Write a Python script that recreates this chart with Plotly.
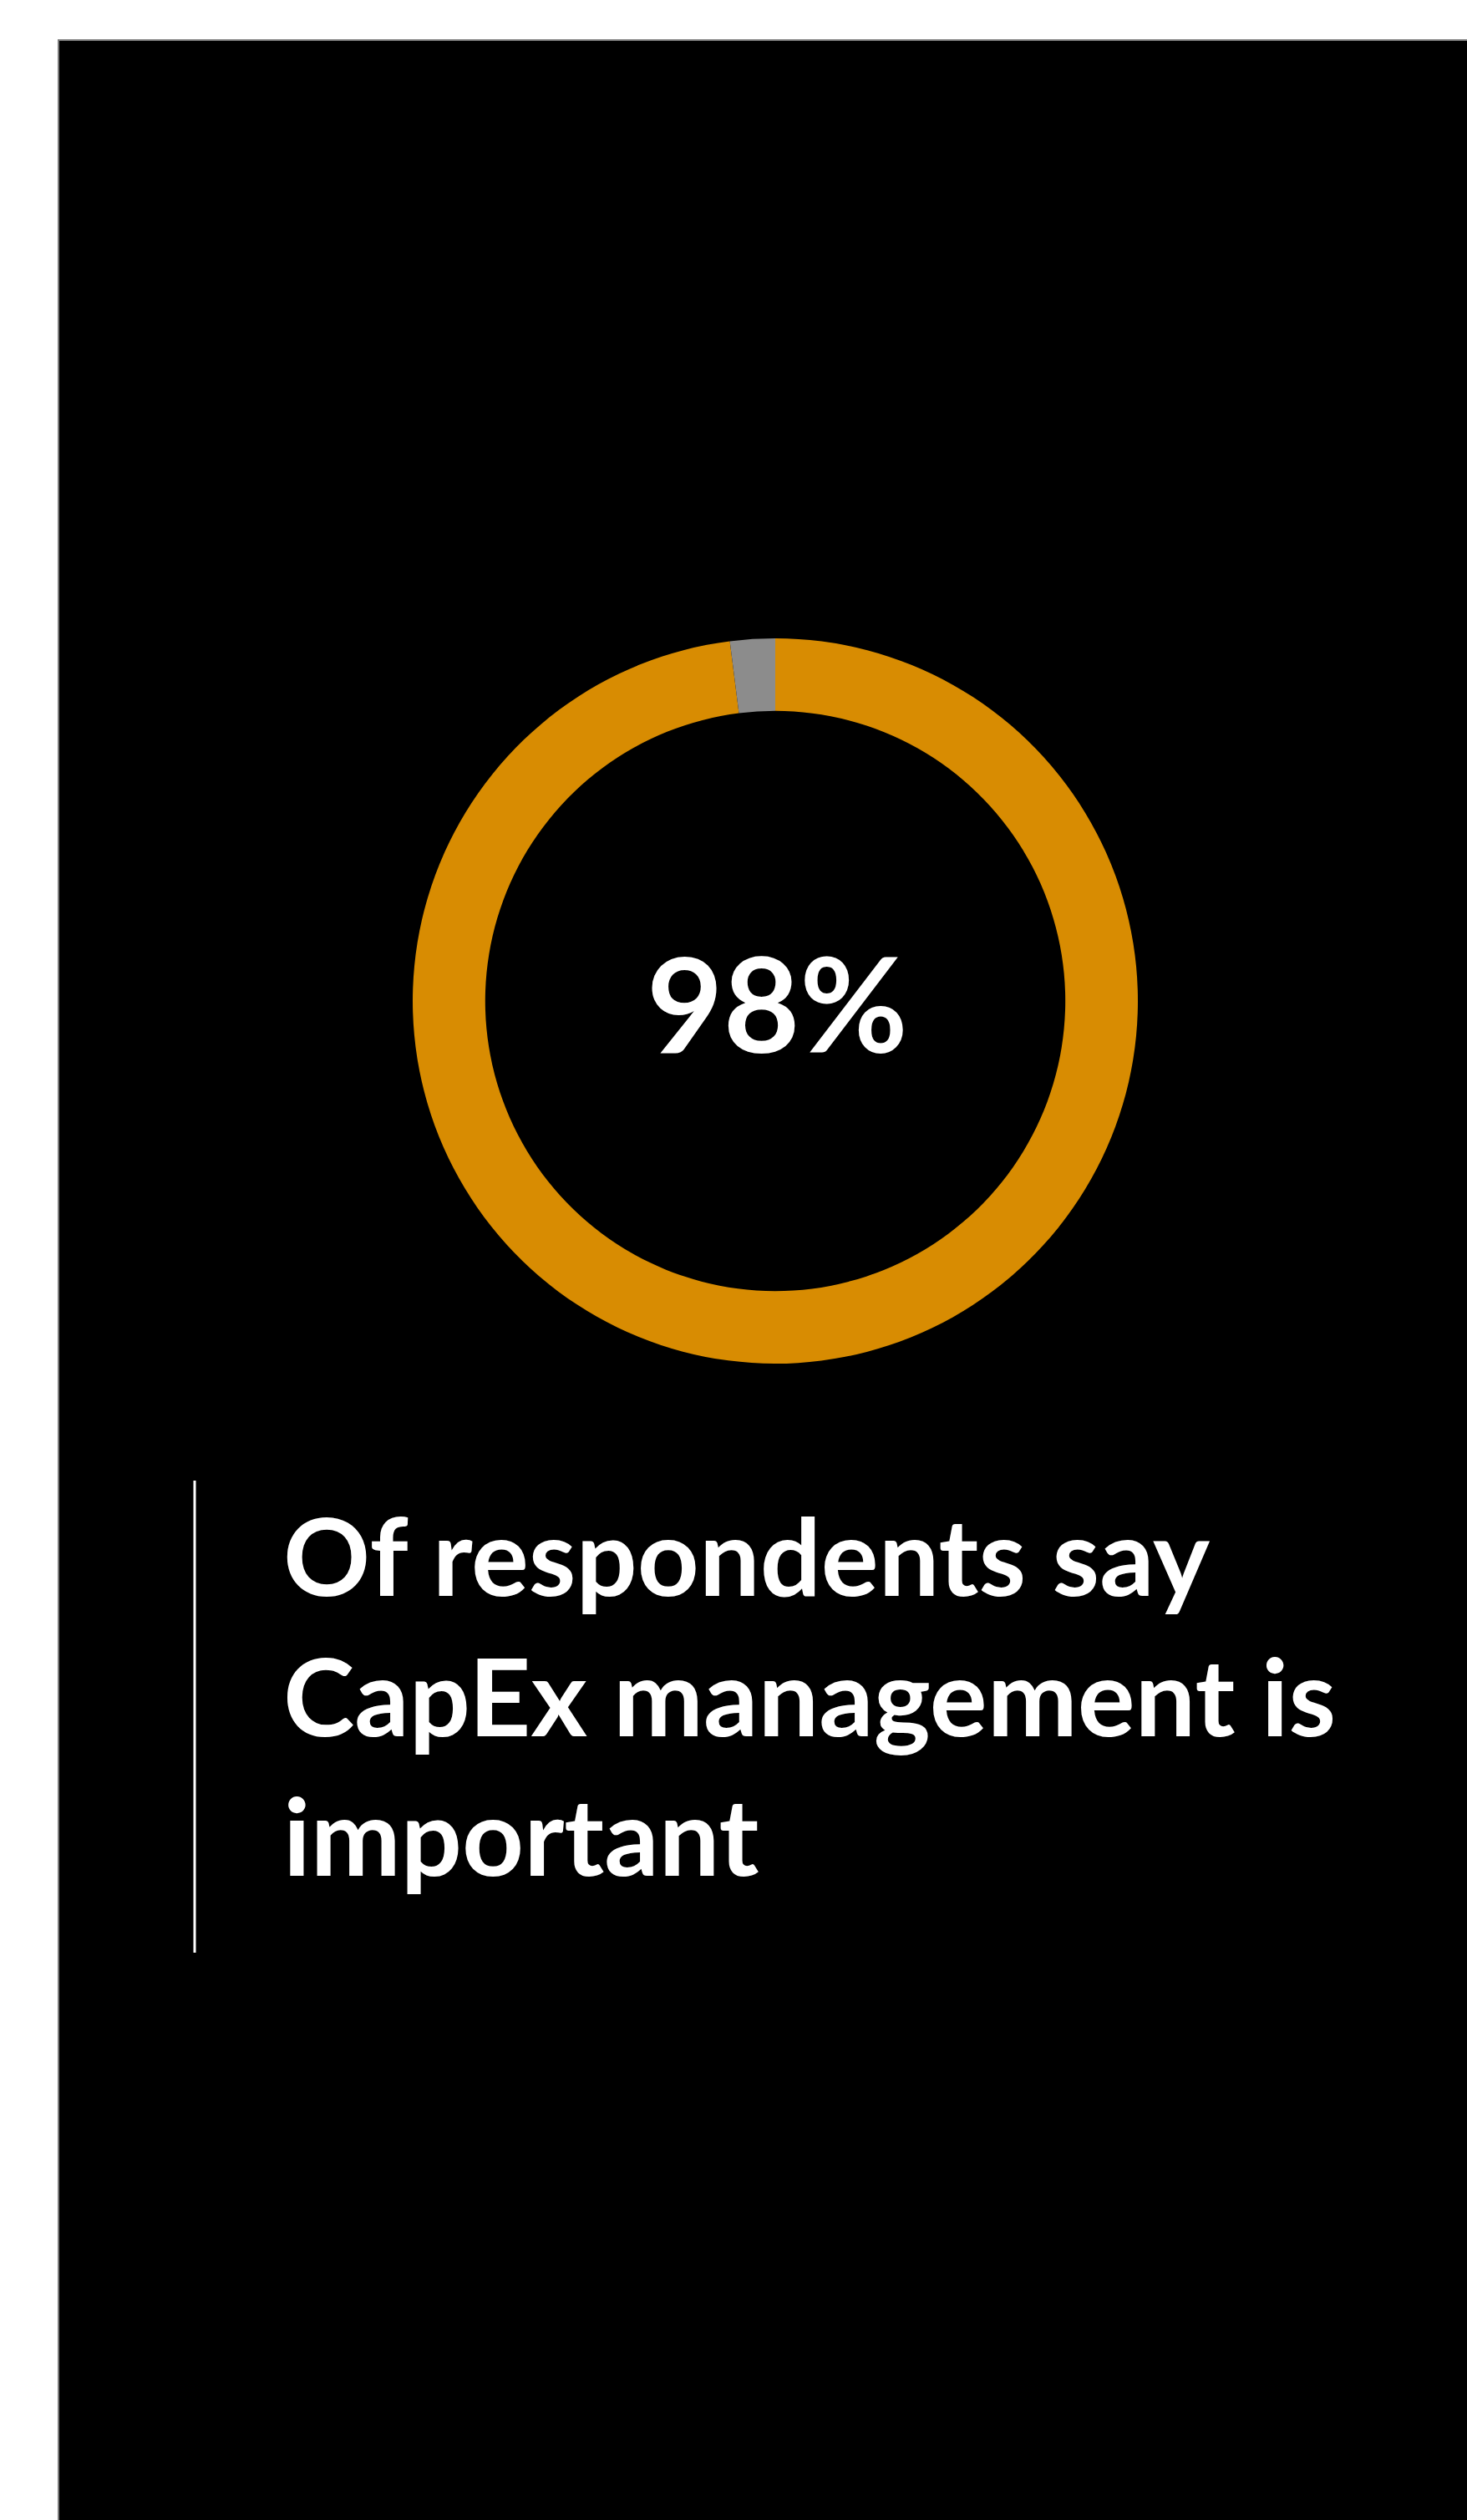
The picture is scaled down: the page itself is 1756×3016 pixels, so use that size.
import plotly.graph_objects as go

# ---- data ----
labels = ["Say CapEx management is important", "Other"]
values = [98, 2]
slice_colors = ["#D88C02", "#8C8C8C"]
headline_lines = ["Of respondents say", "CapEx management is", "important"]

W, H = 1756, 3016


def px_x(x):
    return x / W


def px_y(y):
    return 1 - y / H


fig = go.Figure()

# donut
cx, cy, r_out = 928, 1198, 434
fig.add_trace(go.Pie(
    labels=labels,
    values=values,
    hole=0.80,
    sort=False,
    direction="clockwise",
    rotation=0,
    marker=dict(colors=slice_colors, line=dict(width=0)),
    textinfo="none",
    hoverinfo="label+percent",
    showlegend=False,
    domain=dict(x=[px_x(cx - r_out), px_x(cx + r_out)],
                y=[px_y(cy + r_out), px_y(cy - r_out)]),
))

# black panel
fig.add_shape(type="rect", xref="paper", yref="paper",
              x0=px_x(70), x1=1.01, y0=-0.01, y1=px_y(48),
              fillcolor="black", line=dict(color="#7a7a7a", width=2),
              layer="below")

# vertical accent line
fig.add_shape(type="line", xref="paper", yref="paper",
              x0=px_x(233), x1=px_x(233), y0=px_y(1772), y1=px_y(2337),
              line=dict(color="white", width=3))

# centre value
fig.add_annotation(xref="paper", yref="paper", x=px_x(930), y=px_y(1199),
                   text=f"{values[0]}%", showarrow=False,
                   xanchor="center", yanchor="middle",
                   font=dict(family="Lato", size=158, color="white", weight="bold"))

# headline
fig.add_annotation(xref="paper", yref="paper", x=px_x(337), y=px_y(1781),
                   text="<br>".join(headline_lines), showarrow=False,
                   xanchor="left", yanchor="top", align="left",
                   font=dict(family="Lato", size=129, color="white", weight="bold"))

fig.update_layout(
    width=W, height=H,
    margin=dict(l=0, r=0, t=0, b=0),
    paper_bgcolor="white",
    plot_bgcolor="white",
)

fig.write_html("out.html")
